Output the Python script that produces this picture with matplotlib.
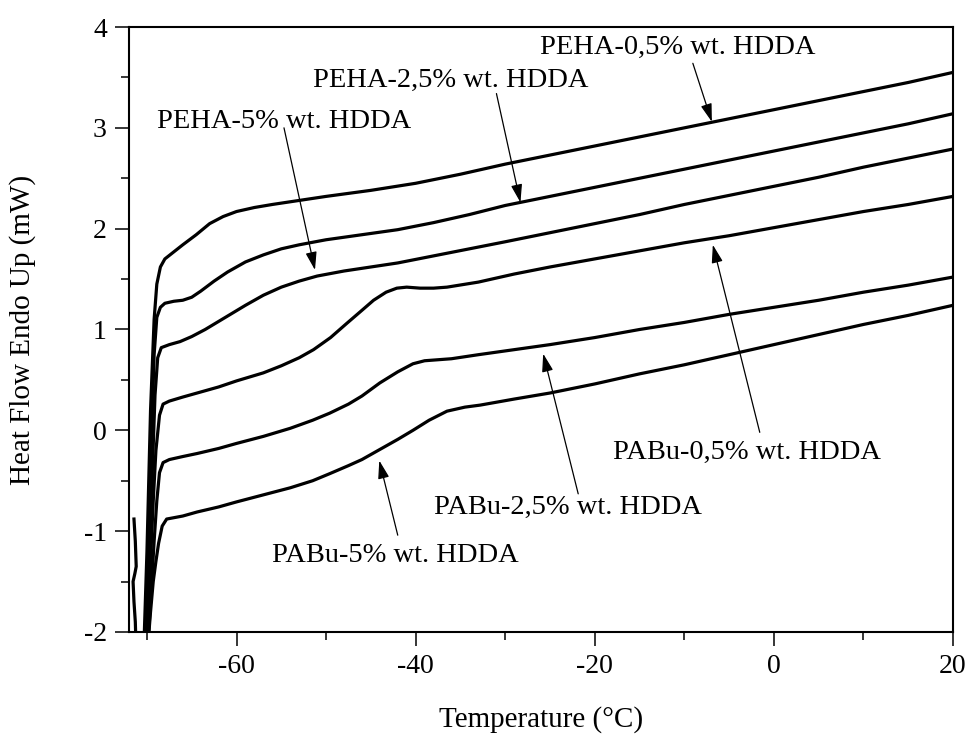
import matplotlib
matplotlib.use("Agg")
import matplotlib.pyplot as plt
from matplotlib.ticker import MultipleLocator

plt.rcParams['font.family'] = ['Liberation Serif', 'DejaVu Serif']
plt.rcParams['axes.unicode_minus'] = False

# ======
# DSC traces
# ======
t_peha_05 = [-70.4, -70.0, -69.6, -69.2, -68.9, -68.5, -68.0, -67.0, -66.0, -64.5, -63.0, -61.5, -60.0,
             -58.0, -56.0, -53.0, -50.0, -45.0, -40.0, -35.0, -30.0, -25.0, -20.0, -15.0, -10.0, -5.0,
             0.0, 5.0, 10.0, 15.0, 20.0]
h_peha_05 = [-2.3, -1.2, 0.2, 1.1, 1.45, 1.62, 1.70, 1.77, 1.84, 1.94, 2.05, 2.12, 2.17,
             2.21, 2.24, 2.28, 2.32, 2.38, 2.45, 2.54, 2.64, 2.73, 2.82, 2.91, 3.00, 3.09,
             3.18, 3.27, 3.36, 3.45, 3.55]

t_peha_25 = [-70.3, -69.9, -69.5, -69.2, -68.9, -68.5, -68.0, -67.0, -66.0, -65.0, -64.0, -62.5, -61.0,
             -59.0, -57.0, -55.0, -53.0, -50.0, -46.0, -42.0, -38.0, -34.0, -30.0, -25.0, -20.0, -15.0,
             -10.0, -5.0, 0.0, 5.0, 10.0, 15.0, 20.0]
h_peha_25 = [-2.3, -1.3, -0.1, 0.75, 1.12, 1.22, 1.26, 1.28, 1.29, 1.32, 1.38, 1.48, 1.57,
             1.67, 1.74, 1.80, 1.84, 1.89, 1.94, 1.99, 2.06, 2.14, 2.23, 2.32, 2.41, 2.50,
             2.59, 2.68, 2.77, 2.86, 2.95, 3.04, 3.14]

t_peha_5 = [-70.2, -69.8, -69.4, -69.1, -68.8, -68.4, -67.5, -66.3, -65.0, -63.5, -62.0, -60.5, -59.0,
            -57.0, -55.0, -53.0, -51.0, -48.0, -45.0, -42.0, -38.0, -34.0, -30.0, -25.0, -20.0, -15.0,
            -10.0, -5.0, 0.0, 5.0, 10.0, 15.0, 20.0]
h_peha_5 = [-2.3, -1.4, -0.4, 0.35, 0.72, 0.82, 0.85, 0.88, 0.93, 1.0, 1.08, 1.16, 1.24,
            1.34, 1.42, 1.48, 1.53, 1.58, 1.62, 1.66, 1.73, 1.80, 1.87, 1.96, 2.05, 2.14,
            2.24, 2.33, 2.42, 2.51, 2.61, 2.70, 2.79]

t_pabu_05 = [-70.1, -69.7, -69.3, -69.0, -68.6, -68.2, -67.5, -66.0, -64.4, -62.0, -60.0, -57.0, -55.0,
             -53.0, -51.4, -49.5, -47.7, -46.0, -44.7, -43.3, -42.1, -41.0, -39.5, -38.0, -36.5, -33.0,
             -29.0, -25.0, -20.0, -15.0, -10.0, -5.0, 0.0, 5.0, 10.0, 15.0, 20.0]
h_pabu_05 = [-2.3, -1.5, -0.7, -0.2, 0.15, 0.26, 0.29, 0.33, 0.37, 0.43, 0.49, 0.57, 0.64,
             0.72, 0.80, 0.92, 1.06, 1.19, 1.29, 1.37, 1.41, 1.42, 1.41, 1.41, 1.42, 1.47,
             1.55, 1.62, 1.70, 1.78, 1.86, 1.93, 2.01, 2.09, 2.17, 2.24, 2.32]

t_pabu_25 = [-70.0, -69.6, -69.2, -68.9, -68.6, -68.2, -67.5, -66.0, -64.4, -62.0, -60.0, -57.0, -54.0,
             -51.5, -49.6, -47.5, -46.0, -44.0, -42.0, -40.3, -39.0, -37.5, -36.0, -33.0, -29.0, -25.0,
             -20.0, -15.0, -10.0, -5.0, 0.0, 5.0, 10.0, 15.0, 20.0]
h_pabu_25 = [-2.3, -1.7, -1.1, -0.7, -0.42, -0.32, -0.29, -0.26, -0.23, -0.18, -0.13, -0.06, 0.02,
             0.10, 0.17, 0.26, 0.34, 0.47, 0.58, 0.66, 0.69, 0.70, 0.71, 0.75, 0.80, 0.85,
             0.92, 1.0, 1.07, 1.15, 1.22, 1.29, 1.37, 1.44, 1.52]

t_pabu_5 = [-70.0, -69.6, -69.3, -69.0, -68.7, -68.3, -67.8, -66.0, -64.4, -62.0, -60.0, -57.0, -54.0,
            -51.5, -49.6, -47.5, -46.0, -44.0, -42.0, -40.3, -38.5, -36.5, -34.5, -32.8, -29.0, -25.0,
            -20.0, -15.0, -10.0, -5.0, 0.0, 5.0, 10.0, 15.0, 20.0]
h_pabu_5 = [-2.25, -1.8, -1.5, -1.3, -1.12, -0.95, -0.88, -0.85, -0.81, -0.76, -0.71, -0.64, -0.57,
            -0.50, -0.43, -0.35, -0.29, -0.19, -0.09, 0.0, 0.10, 0.19, 0.23, 0.25, 0.31, 0.37,
            0.46, 0.56, 0.65, 0.75, 0.85, 0.95, 1.05, 1.14, 1.24]

# start-up transient at the far left
t_spike = [-71.45, -71.3, -71.2, -71.35, -71.55, -71.45, -71.3, -71.2]
h_spike = [-0.88, -1.1, -1.35, -1.42, -1.5, -1.7, -1.9, -2.2]

labels = ['PEHA-0,5% wt. HDDA', 'PEHA-2,5% wt. HDDA', 'PEHA-5% wt. HDDA',
          'PABu-0,5% wt. HDDA', 'PABu-2,5% wt. HDDA', 'PABu-5% wt. HDDA']
label_pos = [(-26.1, 3.80), (-51.5, 3.47), (-68.9, 3.06),
             (-18.0, -0.22), (-38.0, -0.76), (-56.0, -1.24)]
arrow_from = [(-9.05, 3.64), (-30.98, 3.34), (-54.7, 3.0),
              (-1.58, -0.02), (-21.85, -0.63), (-42.0, -1.04)]
arrow_to = [(-6.93, 3.06), (-28.3, 2.26), (-51.24, 1.59),
            (-6.82, 1.84), (-25.76, 0.76), (-44.06, -0.30)]

fig = plt.figure(figsize=(9.71, 7.34), dpi=100)
ax = fig.add_axes([0.1329, 0.139, 0.8486, 0.8242])

for t, h in [(t_peha_05, h_peha_05), (t_peha_25, h_peha_25), (t_peha_5, h_peha_5),
             (t_pabu_05, h_pabu_05), (t_pabu_25, h_pabu_25), (t_pabu_5, h_pabu_5),
             (t_spike, h_spike)]:
    ax.plot(t, h, color='black', lw=2.3, solid_joinstyle='round')

for lab, pos in zip(labels, label_pos):
    ax.text(pos[0], pos[1], lab, fontsize=20.5, ha='left', va='center')

for a, b in zip(arrow_from, arrow_to):
    ax.annotate('', xy=b, xytext=a,
                arrowprops=dict(arrowstyle='-|>,head_length=0.55,head_width=0.17',
                                color='black', lw=0.9, mutation_scale=20,
                                shrinkA=0, shrinkB=0))

ax.set_xlim(-72, 20)
ax.set_ylim(-2, 4)
ax.xaxis.set_major_locator(MultipleLocator(20))
ax.xaxis.set_minor_locator(MultipleLocator(10))
ax.yaxis.set_major_locator(MultipleLocator(1))
ax.yaxis.set_minor_locator(MultipleLocator(0.5))
ax.tick_params(which='both', direction='out', top=False, right=False, labelsize=20, width=1.1)
ax.tick_params(which='major', length=10, pad=6)
ax.tick_params(which='minor', length=5.5)
for sp in ax.spines.values():
    sp.set_linewidth(1.5)

ax.set_xlabel('Temperature (°C)', fontsize=21, labelpad=19)
ax.set_ylabel('Heat Flow Endo Up (mW)', fontsize=21, labelpad=34)

fig.savefig('out.png', dpi=100)
